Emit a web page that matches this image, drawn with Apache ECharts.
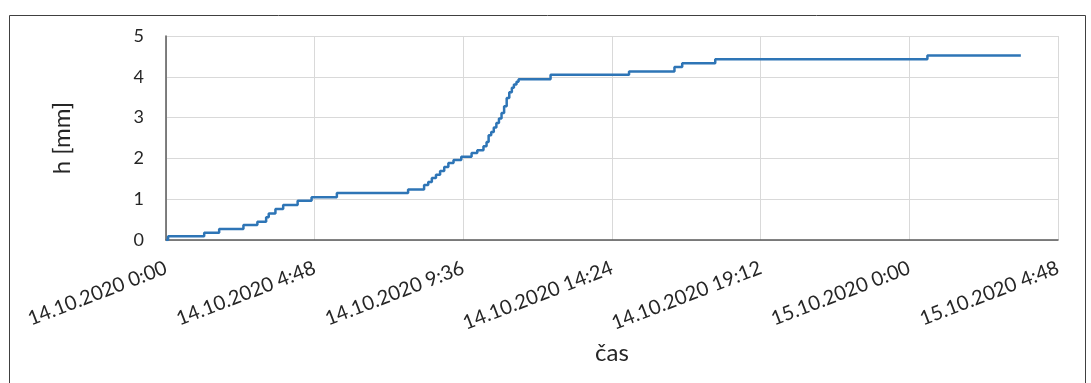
<!DOCTYPE html>
<html>
<head>
<meta charset="utf-8">
<script src="https://cdn.jsdelivr.net/npm/echarts@6/dist/echarts.min.js"></script>
<style>html,body{margin:0;padding:0;background:#fff;}#c{width:1091px;height:383px;}</style>
</head>
<body>
<div id="c"></div>
<script>
// time in hours since 14.10.2020 0:00 (value starts at that time)
const timeHours = [0, 0.07, 1.23, 1.72, 2.50, 2.95, 3.24, 3.31, 3.54, 3.79, 4.25, 4.70, 5.51, 7.82, 8.34, 8.46, 8.59, 8.72, 8.85, 8.98, 9.11, 9.28, 9.54, 9.86, 10.05, 10.25, 10.35, 10.41, 10.50, 10.59, 10.67, 10.75, 10.83, 10.91, 11.00, 11.08, 11.16, 11.24, 11.32, 11.38, 12.42, 14.95, 16.41, 16.67, 17.74, 24.58, 27.60];
const heightMm = [0, 0.09, 0.18, 0.27, 0.37, 0.45, 0.56, 0.65, 0.76, 0.86, 0.96, 1.05, 1.15, 1.24, 1.35, 1.42, 1.52, 1.60, 1.69, 1.79, 1.89, 1.96, 2.04, 2.13, 2.20, 2.30, 2.40, 2.57, 2.65, 2.76, 2.87, 2.98, 3.11, 3.28, 3.48, 3.62, 3.73, 3.81, 3.88, 3.94, 4.05, 4.13, 4.24, 4.33, 4.43, 4.52, 4.52];
const xTickLabels = ['14.10.2020 0:00', '14.10.2020 4:48', '14.10.2020 9:36', '14.10.2020 14:24', '14.10.2020 19:12', '15.10.2020 0:00', '15.10.2020 4:48'];
const yTicks = [0, 1, 2, 3, 4, 5];

const seriesData = timeHours.map((t, i) => [Math.round(t * 60), heightMm[i]]);
const FONT = 'Lato, "Open Sans", sans-serif';

const chart = echarts.init(document.getElementById('c'), null, {renderer: 'canvas'});
chart.setOption({
  animation: false,
  backgroundColor: '#fff',
  graphic: [{
    type: 'rect', left: 7, top: 13, shape: {width: 1076, height: 400},
    style: {fill: 'none', stroke: '#404040', lineWidth: 1}, silent: true
  }],
  grid: {left: 166, right: 33, top: 36, bottom: 143, containLabel: false},
  xAxis: {
    type: 'value', min: 0, max: 1728, interval: 288,
    name: 'čas', nameLocation: 'middle', nameGap: 101,
    nameTextStyle: {fontFamily: FONT, fontSize: 24, color: '#262626'},
    axisLine: {show: true, lineStyle: {color: '#595959', width: 1.5}},
    axisTick: {show: false},
    splitLine: {show: true, lineStyle: {color: '#d9d9d9', width: 1}},
    axisLabel: {
      rotate: 21, margin: 27, fontFamily: FONT, fontSize: 20, color: '#262626',
      formatter: v => xTickLabels[Math.round(v / 288)] || ''
    }
  },
  yAxis: {
    type: 'value', min: yTicks[0], max: yTicks[yTicks.length - 1], interval: 1,
    name: 'h [mm]', nameLocation: 'middle', nameGap: 92, nameRotate: 90,
    nameTextStyle: {fontFamily: FONT, fontSize: 24, color: '#262626'},
    axisLine: {show: true, lineStyle: {color: '#595959', width: 1.5}},
    axisTick: {show: false},
    splitLine: {show: true, lineStyle: {color: '#d9d9d9', width: 1}},
    axisLabel: {margin: 22, fontFamily: FONT, fontSize: 18, color: '#262626'}
  },
  series: [{
    type: 'line', step: 'end', data: seriesData, showSymbol: false,
    lineStyle: {color: '#2e75b6', width: 2.5}, z: 5
  }]
});
</script>
</body>
</html>
